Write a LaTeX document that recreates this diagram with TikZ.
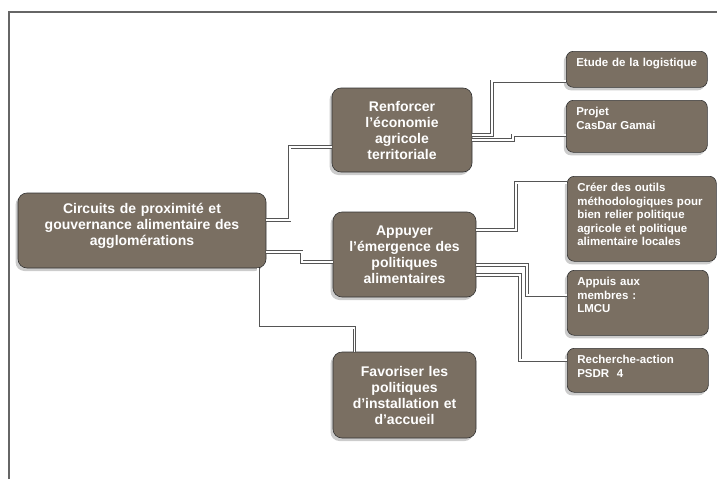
\documentclass[tikz,border=0pt]{standalone}
\usepackage{fontspec}
\setmainfont{Liberation Sans}
\usetikzlibrary{shadows}
\definecolor{boxfill}{RGB}{122,111,98}
\definecolor{linkgray}{RGB}{85,85,85}

\begin{document}
\begin{tikzpicture}[
  x=1pt, y=-1pt,
  box/.style={draw=black!80, fill=boxfill, text=white, rounded corners=9pt, line width=0.6pt,
    drop shadow={shadow xshift=-2.5pt, shadow yshift=-3pt, fill=black!40}},
  topic/.style={box, align=center, inner sep=6pt, text width=#1, font=\bfseries\fontsize{14}{16}\selectfont},
  leaf/.style={box, anchor=north west, align=left, rounded corners=7pt, inner xsep=10pt, inner ysep=7pt,
    text height=8.5pt, text depth=#1, font=\bfseries\fontsize{11.5}{13.5}\selectfont},
  link/.style={draw=linkgray, double=white, double distance=1.7pt, line width=0.7pt},
  frame/.style={draw=black!60, line width=1.2pt}
]
\useasboundingbox (0,0) rectangle (717,479);

\draw[frame] (9,479) -- (9,12) -- (717,12);

\node[topic=236pt, minimum height=75pt, text depth=45pt] (root) at (142,230.5) {Circuits de proximité et\\gouvernance alimentaire des\\agglomérations};

\node[topic=128pt, minimum height=84pt] (renf) at (402,130) {Renforcer\\l’économie\\agricole\\territoriale};
\node[topic=131pt, minimum height=85pt] (appui) at (404.5,254.5) {Appuyer\\l’émergence des\\politiques\\alimentaires};
\node[topic=131pt, minimum height=86pt] (fav) at (404.5,395) {Favoriser les\\politiques\\d’installation et\\d’accueil};

\node[leaf=13.5pt, text width=121pt] (etude) at (566,51) {Etude de la logistique};
\node[leaf=29.5pt, text width=121pt] (projet) at (566,100) {Projet\\CasDar Gamai};
\node[leaf=62.5pt, text width=129pt] (creer) at (567,176) {Créer des outils\\méthodologiques pour\\bien relier politique\\agricole et politique\\alimentaire locales};
\node[leaf=42.5pt, text width=121pt] (membres) at (567,270) {Appuis aux\\membres :\\LMCU};
\node[leaf=21.5pt, text width=121pt] (psdr) at (567,348) {Recherche-action\\PSDR~~4};

\draw[link] ([yshift=10.5pt]root.east) -| ([xshift=-42pt,yshift=-17pt]renf.west) -- ([yshift=-17pt]renf.west);
\draw[link] ([yshift=-21.5pt]root.east) -| ([xshift=-31pt,yshift=-7.5pt]appui.west) -- ([yshift=-7.5pt]appui.west);
\draw[link] ([xshift=-8pt]root.south east) |- ([xshift=-50pt,yshift=24pt]fav.north) -- ([xshift=-50pt]fav.north);

\draw[link] ([yshift=-5pt]renf.east) -| ([xshift=-74pt,yshift=-12pt]etude.west) -- ([yshift=-12pt]etude.west);
\draw[link] ([yshift=-10pt]renf.east) -| ([xshift=-53pt,yshift=-9pt]projet.west) -- ([yshift=-9pt]projet.west);

\draw[link] ([yshift=24.5pt]appui.east) -| ([xshift=-51pt,yshift=36pt]creer.west) -- ([yshift=36pt]creer.west);
\draw[link] ([yshift=-10.5pt]appui.east) -| ([xshift=-40pt,yshift=7.5pt]membres.west) -- ([yshift=7.5pt]membres.west);
\draw[link] ([yshift=-20.5pt]appui.east) -| ([xshift=-47pt,yshift=10pt]psdr.west) -- ([yshift=10pt]psdr.west);

\end{tikzpicture}
\end{document}
